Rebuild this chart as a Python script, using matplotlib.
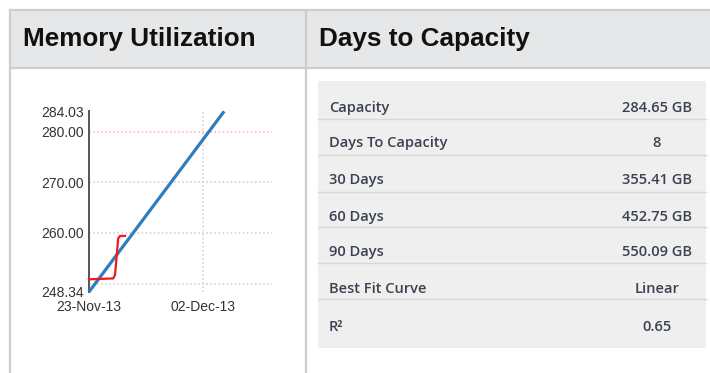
import numpy as np
import matplotlib
matplotlib.use("Agg")
import matplotlib.pyplot as plt
import matplotlib.dates as mdates
from matplotlib.patches import Rectangle

# memory usage (GB) over time
fit_dates = np.array(['2013-11-23T00:00', '2013-12-03T17:00'], dtype='datetime64[m]')
fit_values = [248.34, 284.03]

used_dates = np.array(['2013-11-23T00:00', '2013-11-24T22:00', '2013-11-25T01:30',
                       '2013-11-25T04:30', '2013-11-25T07:30', '2013-11-25T11:00',
                       '2013-11-25T20:30'], dtype='datetime64[m]')
used_values = [250.83, 251.0, 251.7, 255.3, 258.9, 259.4, 259.4]

y_min, y_max = 248.34, 284.03
grid_values = [250, 260, 270, 280]
ytick_values = [248.34, 260.00, 270.00, 280.00, 284.03]
xtick_dates = np.array(['2013-11-23', '2013-12-02'], dtype='datetime64[D]')
x_end = np.datetime64('2013-12-07T12:00')

# projection table
row_labels = ['Capacity', 'Days To Capacity', '30 Days', '60 Days', '90 Days',
              'Best Fit Curve', 'R²']
row_values = ['284.65 GB', '8', '355.41 GB', '452.75 GB', '550.09 GB', 'Linear', '0.65']

W, H = 710, 373
fig = plt.figure(figsize=(W / 100, H / 100), dpi=100)

# page frame drawn in pixel coordinates
bg = fig.add_axes([0, 0, 1, 1], zorder=0)
bg.set_xlim(0, W)
bg.set_ylim(H, 0)
bg.axis('off')

border = '#cdcdcd'
bg.add_patch(Rectangle((10, 10), W - 10, 58, fc='#e5e7e8', ec='none'))
bg.plot([10, W], [10, 10], color=border, lw=1.6)
bg.plot([10, W], [68, 68], color=border, lw=1.6)
bg.plot([10, 10], [10, H], color=border, lw=1.6)
bg.plot([306, 306], [10, H], color=border, lw=1.6)

bg.text(23, 46, 'Memory Utilization', fontsize=18.8, fontweight='bold',
        family='Liberation Sans', color='#111111', va='baseline')
bg.text(319, 46, 'Days to Capacity', fontsize=18.8, fontweight='bold',
        family='Liberation Sans', color='#111111', va='baseline')

# table
bg.add_patch(Rectangle((318, 81), 388, 267, fc='#efefef', ec='none'))
for ys in [119, 155, 192, 227, 263, 299]:
    bg.plot([318, 706], [ys, ys], color='#d8d8d8', lw=1.0)

row_y = [106.7, 142, 178.7, 216, 251, 288, 326]
for lab, val, yc in zip(row_labels, row_values, row_y):
    bg.text(329, yc + 5, lab, fontsize=10.5, family='Open Sans', fontweight='semibold',
            color='#3a4150', va='baseline', ha='left')
    bg.text(657, yc + 5, val, fontsize=10.5, family='Open Sans', fontweight='semibold',
            color='#3a4150', va='baseline', ha='center')

# chart
x0, x1 = 89, 272
y_top, y_bot = 111.3, 291.9
ax = fig.add_axes([x0 / W, 1 - y_bot / H, (x1 - x0) / W, (y_bot - y_top) / H], zorder=2)
ax.set_facecolor('none')

ax.set_ylim(y_min, y_max)
ax.set_xlim(fit_dates[0], x_end)

for g in grid_values:
    ax.axhline(g, color='#f2a8ee' if g == 280 else '#c9ccd8', lw=1.1, ls=':', zorder=1)
ax.axvline(xtick_dates[1], color='#d8c8d8', lw=1.1, ls=':', zorder=1)

ax.plot(fit_dates, fit_values, color='#2f7dbd', lw=2.3, solid_capstyle='butt',
        zorder=3, clip_on=False)
ax.plot(used_dates, used_values, color='#f01818', lw=1.6, zorder=4, clip_on=False)

ax.set_yticks(ytick_values)
ax.set_yticklabels(['%.2f' % v for v in ytick_values])
ax.set_xticks(xtick_dates)
ax.xaxis.set_major_formatter(mdates.DateFormatter('%d-%b-%y'))

ax.tick_params(axis='both', length=0, labelsize=10, labelcolor='#333333')
ax.tick_params(axis='y', pad=4)
ax.tick_params(axis='x', pad=6)
for lab in ax.get_xticklabels() + ax.get_yticklabels():
    lab.set_family('Liberation Sans')

for side in ['top', 'right', 'bottom']:
    ax.spines[side].set_visible(False)
ax.spines['left'].set_color('#555555')
ax.spines['left'].set_linewidth(1.4)

fig.savefig('out.png', dpi=100)
